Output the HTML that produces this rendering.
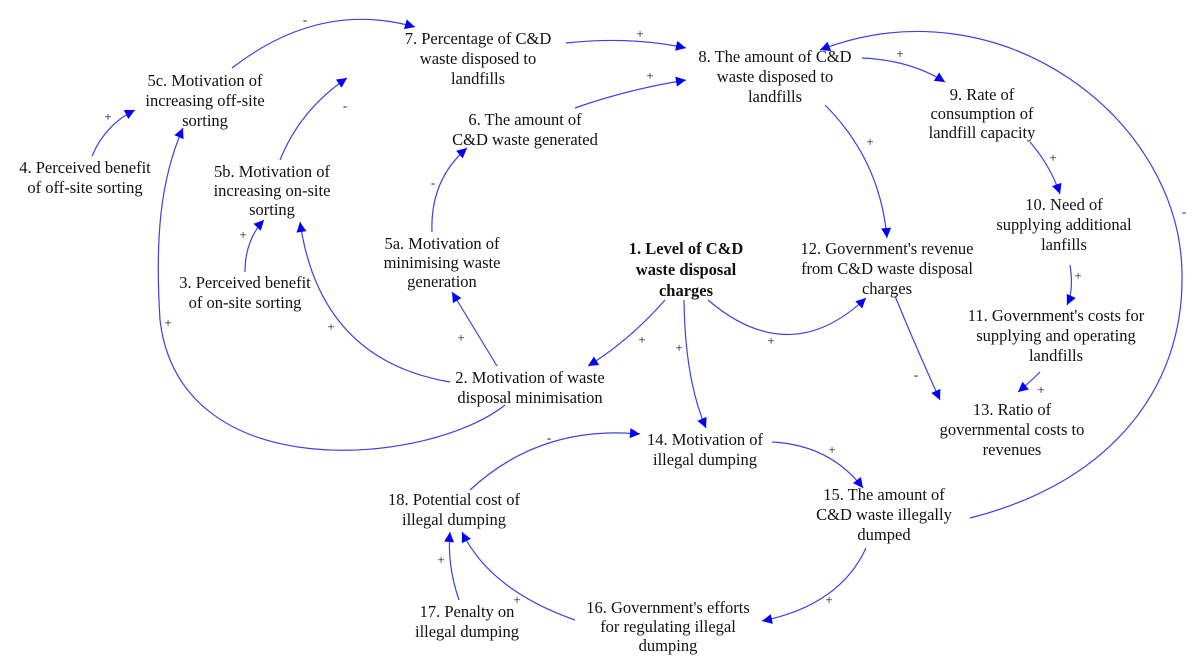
<!DOCTYPE html>
<html><head><meta charset="utf-8"><style>
html,body{margin:0;padding:0;background:#fff;}
svg{display:block;}
text{font-family:"Liberation Serif",serif;font-size:16.5px;fill:#111;text-anchor:middle;}
text.s{font-size:13px;}
path{fill:none;stroke:#4040e0;stroke-width:1.2;}
</style></head><body>
<svg width="1200" height="669" viewBox="0 0 1200 669" xmlns="http://www.w3.org/2000/svg">
<defs><marker id="a" viewBox="0 0 10 10" refX="10" refY="5" markerWidth="12" markerHeight="10" markerUnits="userSpaceOnUse" orient="auto"><path d="M0,0 L10,5 L0,10 z" style="fill:#0000ff;stroke:none"/></marker></defs>

<!-- nodes -->
<text x="478" y="44">7. Percentage of C&amp;D<tspan x="478" dy="20">waste disposed to</tspan><tspan x="478" dy="20">landfills</tspan></text>
<text x="775" y="62">8. The amount of C&amp;D<tspan x="775" dy="20">waste disposed to</tspan><tspan x="775" dy="20">landfills</tspan></text>
<text x="205" y="86">5c. Motivation of<tspan x="205" dy="20">increasing off-site</tspan><tspan x="205" dy="20">sorting</tspan></text>
<text x="525" y="125">6. The amount of<tspan x="525" dy="20">C&amp;D waste generated</tspan></text>
<text x="85" y="173">4. Perceived benefit<tspan x="85" dy="20">of off-site sorting</tspan></text>
<text x="272" y="177">5b. Motivation of<tspan x="272" dy="19">increasing on-site</tspan><tspan x="272" dy="19">sorting</tspan></text>
<text x="982" y="100">9. Rate of<tspan x="982" dy="19">consumption of</tspan><tspan x="982" dy="19">landfill capacity</tspan></text>
<text x="442" y="249">5a. Motivation of<tspan x="442" dy="19">minimising waste</tspan><tspan x="442" dy="19">generation</tspan></text>
<text x="245" y="288">3. Perceived benefit<tspan x="245" dy="20">of on-site sorting</tspan></text>
<text x="686" y="254" font-weight="bold">1. Level of C&amp;D<tspan x="686" dy="21">waste disposal</tspan><tspan x="686" dy="21">charges</tspan></text>
<text x="887" y="254">12. Government's revenue<tspan x="887" dy="20">from C&amp;D waste disposal</tspan><tspan x="887" dy="20">charges</tspan></text>
<text x="1064" y="210">10. Need of<tspan x="1064" dy="20">supplying additional</tspan><tspan x="1064" dy="20">lanfills</tspan></text>
<text x="1056" y="321">11. Government's costs for<tspan x="1056" dy="20">supplying and operating</tspan><tspan x="1056" dy="20">landfills</tspan></text>
<text x="530" y="383">2. Motivation of waste<tspan x="530" dy="20">disposal minimisation</tspan></text>
<text x="1012" y="415">13. Ratio of<tspan x="1012" dy="20">governmental costs to</tspan><tspan x="1012" dy="20">revenues</tspan></text>
<text x="705" y="445">14. Motivation of<tspan x="705" dy="20">illegal dumping</tspan></text>
<text x="884" y="500">15. The amount of<tspan x="884" dy="20">C&amp;D waste illegally</tspan><tspan x="884" dy="20">dumped</tspan></text>
<text x="454" y="505">18. Potential cost of<tspan x="454" dy="20">illegal dumping</tspan></text>
<text x="467" y="617">17. Penalty on<tspan x="467" dy="20">illegal dumping</tspan></text>
<text x="668" y="613">16. Government's efforts<tspan x="668" dy="19">for regulating illegal</tspan><tspan x="668" dy="19">dumping</tspan></text>

<!-- connectors -->
<path marker-end="url(#a)" d="M232,68 Q320,0 415,27"/>
<path marker-end="url(#a)" d="M566,43 Q630,36 686,48"/>
<path marker-end="url(#a)" d="M575,108 Q625,90 686,80"/>
<path marker-end="url(#a)" d="M92,156 Q105,125 135,110"/>
<path marker-end="url(#a)" d="M245,272 Q245,240 264,220"/>
<path marker-end="url(#a)" d="M280,160 Q300,110 347,78"/>
<path marker-end="url(#a)" d="M432,232 Q430,180 467,148"/>
<path marker-end="url(#a)" d="M497,366 Q475,330 452,292"/>
<path marker-end="url(#a)" d="M450,382 Q320,360 300,222"/>
<path marker-end="url(#a)" d="M505,405 C430,465 180,490 160,320 C155,240 160,180 183,128"/>
<path marker-end="url(#a)" d="M665,300 Q630,340 588,366"/>
<path marker-end="url(#a)" d="M684,300 Q685,380 706,428"/>
<path marker-end="url(#a)" d="M708,300 Q790,370 866,298"/>
<path marker-end="url(#a)" d="M825,105 Q880,160 887,238"/>
<path marker-end="url(#a)" d="M862,58 Q910,60 945,82"/>
<path marker-end="url(#a)" d="M1030,142 Q1050,165 1060,194"/>
<path marker-end="url(#a)" d="M1070,265 Q1074,290 1067,305"/>
<path marker-end="url(#a)" d="M1040,372 Q1030,382 1018,392"/>
<path marker-end="url(#a)" d="M895,296 Q915,345 940,400"/>
<path marker-end="url(#a)" d="M970,518 C1120,480 1182,380 1182,280 C1185,120 1000,-20 820,50"/>
<path marker-end="url(#a)" d="M772,442 Q830,445 863,488"/>
<path marker-end="url(#a)" d="M470,490 Q540,425 640,434"/>
<path marker-end="url(#a)" d="M866,548 Q840,605 762,621"/>
<path marker-end="url(#a)" d="M575,620 Q490,590 462,532"/>
<path marker-end="url(#a)" d="M459,600 Q447,565 450,532"/>

<!-- labels -->
<text class="s" x="305" y="24">-</text>
<text class="s" x="640" y="38">+</text>
<text class="s" x="650" y="80">+</text>
<text class="s" x="108" y="121">+</text>
<text class="s" x="243" y="239">+</text>
<text class="s" x="345" y="110">-</text>
<text class="s" x="433" y="187">-</text>
<text class="s" x="461" y="342">+</text>
<text class="s" x="331" y="331">+</text>
<text class="s" x="168" y="327">+</text>
<text class="s" x="642" y="344">+</text>
<text class="s" x="679" y="352">+</text>
<text class="s" x="771" y="345">+</text>
<text class="s" x="870" y="146">+</text>
<text class="s" x="900" y="58">+</text>
<text class="s" x="1053" y="162">+</text>
<text class="s" x="1078" y="280">+</text>
<text class="s" x="1041" y="394">+</text>
<text class="s" x="916" y="379">-</text>
<text class="s" x="1184" y="216">-</text>
<text class="s" x="832" y="454">+</text>
<text class="s" x="549" y="442">-</text>
<text class="s" x="829" y="604">+</text>
<text class="s" x="517" y="604">+</text>
<text class="s" x="441" y="564">+</text>
</svg>
</body></html>
